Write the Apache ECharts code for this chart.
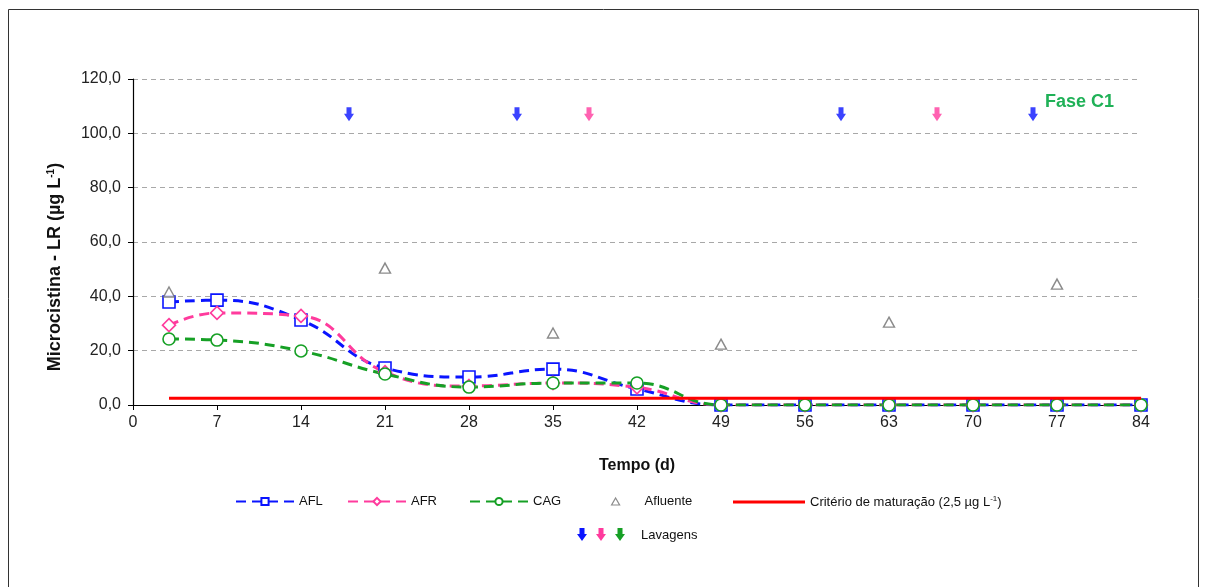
<!DOCTYPE html>
<html>
<head>
<meta charset="utf-8">
<script src="https://cdn.jsdelivr.net/npm/echarts@6/dist/echarts.min.js"></script>
<style>
  html, body { margin: 0; padding: 0; background: #fff; }
  #chart { width: 1206px; height: 587px; }
</style>
</head>
<body>
<div id="chart"></div>
<script>
// Sampling days (d)
const days = [3, 7, 14, 21, 28, 35, 42, 49, 56, 63, 70, 77, 84];
// Microcystin-LR in each filter effluent (µg/L)
const afl = [37.9, 38.6, 31.3, 13.6, 10.3, 13.2, 5.9, 0, 0, 0, 0, 0, 0];
const afr = [29.4, 33.9, 32.8, 12.1, 7.0, 8.1, 6.5, 0, 0, 0, 0, 0, 0];
const cag = [24.3, 23.9, 19.9, 11.4, 6.6, 8.1, 8.1, 0, 0, 0, 0, 0, 0];
// Influent samples
const afluenteDays = [3, 21, 35, 49, 63, 77];
const afluente = [41.6, 50.4, 26.5, 22.4, 30.5, 44.5];
// Maturation criterion
const criterioDays = [3, 84];
const criterio = 2.5;
// Backwash (lavagens) days, drawn as arrows near the top of the plot
const lavagensAzul = [18, 32, 59, 75];
const lavagensRosa = [38, 67];
const lavagensNivel = 107;

const BLUE = '#0a14ff', PINK = '#ff3b9d', GREEN = '#16a025', GRAY = '#6e6e6e', RED = '#ff0000';
const FONT = '"Liberation Sans", Arial, sans-serif';
const ARROW = [[2.5, 0], [7.5, 0], [7.5, 6], [10, 6], [5, 13], [0, 6], [2.5, 6]];
const arrowPath = 'path://M' + ARROW.map(p => p.join(',')).join(' L') + ' Z';

const pairs = (xs, ys) => xs.map((x, i) => [x, ys[i]]);

// Down arrow polygon used in the backwash legend row
function arrowPoints(x, y) {
  return ARROW.map(p => [p[0] + x, p[1] + y]);
}

const chart = echarts.init(document.getElementById('chart'), null, { renderer: 'canvas' });

function lineSeries(name, values, color, symbol, size) {
  return {
    name, type: 'line', data: pairs(days, values), smooth: 0.45,
    symbol, symbolSize: size, showSymbol: true,
    lineStyle: { color, width: 3, type: [10, 6] },
    itemStyle: { color: '#fff', borderColor: color, borderWidth: 1.6 },
    emphasis: { disabled: true }, z: 3
  };
}

const legendText = {
  fontFamily: FONT, fontSize: 13, color: '#111',
  rich: { sup: { fontFamily: FONT, fontSize: 8, verticalAlign: 'top', padding: [0, 0, 6, 0], color: '#111' } }
};

function legendAt(data, left, extra) {
  return Object.assign({
    data, left, top: 490, orient: 'horizontal', itemWidth: 58, itemHeight: 9, itemGap: 0,
    selectedMode: false, textStyle: legendText
  }, extra || {});
}

chart.setOption({
  animation: false,
  backgroundColor: '#fff',
  grid: { left: 133, right: 65, top: 79, bottom: 182, containLabel: false },
  xAxis: {
    type: 'value', min: 0, max: 84, interval: 7,
    name: 'Tempo (d)', nameLocation: 'middle', nameGap: 53,
    nameTextStyle: { fontFamily: FONT, fontSize: 16, fontWeight: 'bold', color: '#111' },
    axisLine: { lineStyle: { color: '#000', width: 1.2 } },
    axisTick: { show: true, length: 5, lineStyle: { color: '#000' } },
    axisLabel: { fontFamily: FONT, fontSize: 16, color: '#222', margin: 10 },
    splitLine: { show: false }
  },
  yAxis: {
    type: 'value', min: 0, max: 120, interval: 20,
    axisLine: { show: true, lineStyle: { color: '#000', width: 1.2 } },
    axisTick: { show: true, length: 5, lineStyle: { color: '#000' } },
    axisLabel: { fontFamily: FONT, fontSize: 16, color: '#222', margin: 12,
      formatter: v => v.toFixed(1).replace('.', ',') },
    splitLine: { show: true, lineStyle: { color: '#a8a8a8', type: [5, 4], width: 1 } }
  },
  legend: [
    legendAt(['AFL'], 230),
    legendAt(['AFR'], 342),
    legendAt(['CAG'], 464),
    legendAt([{ name: 'Afluente', icon: 'triangle', itemStyle: { color: '#fff', borderColor: GRAY, borderWidth: 1.2 } }],
      606, { itemWidth: 8, itemHeight: 7, textStyle: Object.assign({}, legendText, { padding: [0, 0, 0, 20] }) }),
    legendAt([{ name: 'Critério de maturação (2,5 µg L-1)', icon: 'rect', itemStyle: { color: RED } }], 728,
      { itemWidth: 72, itemHeight: 3, formatter: () => 'Critério de maturação (2,5 µg L{sup|-1})' })
  ],
  graphic: [
    { type: 'rect', silent: true, shape: { x: 8.5, y: 9.5, width: 1190, height: 620 },
      style: { fill: null, stroke: '#333', lineWidth: 1 } },
    { type: 'text', silent: true, x: 55, y: 267, rotation: Math.PI / 2,
      style: { text: 'Microcistina - LR (µg L{sup|-1})', fontFamily: FONT, fontSize: 18, fontWeight: 'bold',
        fill: '#111', align: 'center', verticalAlign: 'middle',
        rich: { sup: { fontFamily: FONT, fontSize: 10, fontWeight: 'bold', verticalAlign: 'top', padding: [0, 0, 8, 0], fill: '#111' } } } },
    { type: 'text', silent: true, x: 1045, y: 102,
      style: { text: 'Fase C1', fontFamily: FONT, fontSize: 18, fontWeight: 'bold', fill: '#1fb157', verticalAlign: 'middle' } },
    // Backwash legend row
    { type: 'polygon', silent: true, shape: { points: arrowPoints(577, 528) }, style: { fill: BLUE } },
    { type: 'polygon', silent: true, shape: { points: arrowPoints(596, 528) }, style: { fill: PINK } },
    { type: 'polygon', silent: true, shape: { points: arrowPoints(615, 528) }, style: { fill: GREEN } },
    { type: 'text', silent: true, x: 641, y: 535,
      style: { text: 'Lavagens', fontFamily: FONT, fontSize: 13, fill: '#111', verticalAlign: 'middle' } }
  ],
  series: [
    lineSeries('AFL', afl, BLUE, 'rect', 12),
    lineSeries('AFR', afr, PINK, 'diamond', 13),
    lineSeries('CAG', cag, GREEN, 'circle', 12),
    {
      name: 'Afluente', type: 'scatter', data: pairs(afluenteDays, afluente),
      symbol: 'triangle', symbolSize: [11, 10],
      itemStyle: { color: '#fff', borderColor: GRAY, borderWidth: 1.4 }, z: 4
    },
    {
      name: 'Critério de maturação (2,5 µg L-1)', type: 'line',
      data: criterioDays.map(d => [d, criterio]), symbol: 'none',
      lineStyle: { color: RED, width: 3, type: 'solid' }, itemStyle: { color: RED }, z: 5
    },
    {
      name: 'Lavagens AFL', type: 'scatter', data: lavagensAzul.map(d => [d, lavagensNivel]),
      symbol: arrowPath, symbolSize: [10, 14], itemStyle: { color: BLUE }
    },
    {
      name: 'Lavagens AFR', type: 'scatter', data: lavagensRosa.map(d => [d, lavagensNivel]),
      symbol: arrowPath, symbolSize: [10, 14], itemStyle: { color: PINK }
    }
  ]
});
</script>
</body>
</html>
